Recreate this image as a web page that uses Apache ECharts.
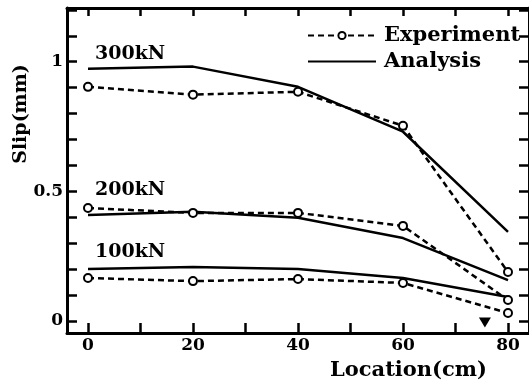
<!DOCTYPE html>
<html>
<head>
<meta charset="utf-8">
<script src="https://cdn.jsdelivr.net/npm/echarts@6/dist/echarts.min.js"></script>
<style>
  html, body { margin: 0; padding: 0; background: #fff; }
  #chart { width: 529px; height: 385px; }
</style>
</head>
<body>
<div id="chart"></div>
<script>
// ===== Data =====
const LOCATIONS = [0, 20, 40, 60, 80];

const EXP_300 = [0.903, 0.873, 0.884, 0.753, 0.189];
const ANA_300 = [0.973, 0.981, 0.903, 0.730, 0.344];
const EXP_200 = [0.436, 0.417, 0.417, 0.367, 0.081];
const ANA_200 = [0.409, 0.421, 0.398, 0.320, 0.158];
const EXP_100 = [0.166, 0.154, 0.162, 0.147, 0.031];
const ANA_100 = [0.201, 0.208, 0.201, 0.166, 0.093];

const LOAD_LABELS = ['300kN', '200kN', '100kN'];
const TRIANGLE_MARK = [[75.6, -0.006]];

const X_TICKS  = [0, 10, 20, 30, 40, 50, 60, 70, 80];
const X_LABELS = [0, 20, 40, 60, 80];
const Y_TICKS  = [0, 0.1, 0.2, 0.3, 0.4, 0.5, 0.6, 0.7, 0.8, 0.9, 1, 1.1, 1.2];
const Y_LABELS = [0, 0.5, 1];

// ===== Style =====
const INK  = '#000';
const FONT = '"DejaVu Serif", "Liberation Serif", serif';

function pairs(vals) {
  return LOCATIONS.map((x, i) => [x, vals[i]]);
}

function frameAxis(extra) {
  return {
    type: 'value',
    axisLine: { show: true, onZero: false, lineStyle: { color: INK, width: 3 } },
    splitLine: { show: false },
    ...extra,
  };
}

function ticks(values, len) {
  return { show: true, inside: true, length: len, customValues: values, lineStyle: { color: INK, width: 2.5 } };
}

function expSeries(vals) {
  return {
    name: 'Experiment', type: 'line', data: pairs(vals),
    symbol: 'circle', symbolSize: 8, showSymbol: true,
    lineStyle: { color: INK, width: 2.5, type: [6, 4] },
    itemStyle: { color: '#fff', borderColor: INK, borderWidth: 2 },
    z: 3,
  };
}

function anaSeries(vals) {
  return {
    name: 'Analysis', type: 'line', data: pairs(vals),
    symbol: 'none',
    lineStyle: { color: INK, width: 2.5 },
    itemStyle: { color: 'rgba(0,0,0,0)' },
    z: 2,
  };
}

const chart = echarts.init(document.getElementById('chart'));

const loadLabelTops = [45, 181, 243];

chart.setOption({
  backgroundColor: '#fff',
  animation: false,
  grid: { left: 67, right: -1, top: 8, bottom: 52 },
  legend: {
    data: ['Experiment', 'Analysis'],
    orient: 'vertical', left: 302, top: 20,
    itemWidth: 68, itemHeight: 9, itemGap: 5,
    textStyle: { color: INK, fontFamily: FONT, fontWeight: 'bold', fontSize: 21, padding: [0, 0, 0, 3] },
  },
  xAxis: [
    frameAxis({
      min: -4, max: 84, position: 'bottom',
      axisTick: ticks(X_TICKS, 10),
      axisLabel: { customValues: X_LABELS, color: INK, fontFamily: FONT, fontWeight: 'bold', fontSize: 17, margin: 4 },
    }),
    frameAxis({
      min: -4, max: 84, position: 'top',
      axisTick: ticks(X_TICKS, 8),
      axisLabel: { show: false },
    }),
  ],
  yAxis: [
    frameAxis({
      min: -0.046, max: 1.207, position: 'left',
      axisTick: ticks(Y_TICKS, 10),
      axisLabel: { customValues: Y_LABELS, color: INK, fontFamily: FONT, fontWeight: 'bold', fontSize: 17, margin: 4 },
    }),
    frameAxis({
      min: -0.046, max: 1.207, position: 'right',
      axisTick: ticks(Y_TICKS, 10),
      axisLabel: { show: false },
    }),
  ],
  graphic: [
    {
      type: 'text', left: 330, top: 360,
      style: { text: 'Location(cm)', fill: INK, font: 'bold 21px ' + FONT },
    },
    {
      type: 'text', x: 21, y: 114, rotation: Math.PI / 2,
      style: { text: 'Slip(mm)', fill: INK, font: 'bold 19px ' + FONT, align: 'center', verticalAlign: 'middle' },
    },
    ...LOAD_LABELS.map((t, i) => ({
      type: 'text', left: 95, top: loadLabelTops[i],
      style: { text: t, fill: INK, font: 'bold 19px ' + FONT },
    })),
  ],
  series: [
    anaSeries(ANA_300), expSeries(EXP_300),
    anaSeries(ANA_200), expSeries(EXP_200),
    anaSeries(ANA_100), expSeries(EXP_100),
    {
      type: 'scatter', data: TRIANGLE_MARK,
      symbol: 'triangle', symbolRotate: 180, symbolSize: [12, 10],
      itemStyle: { color: INK, opacity: 1 }, z: 4,
    },
  ],
});
</script>
</body>
</html>
